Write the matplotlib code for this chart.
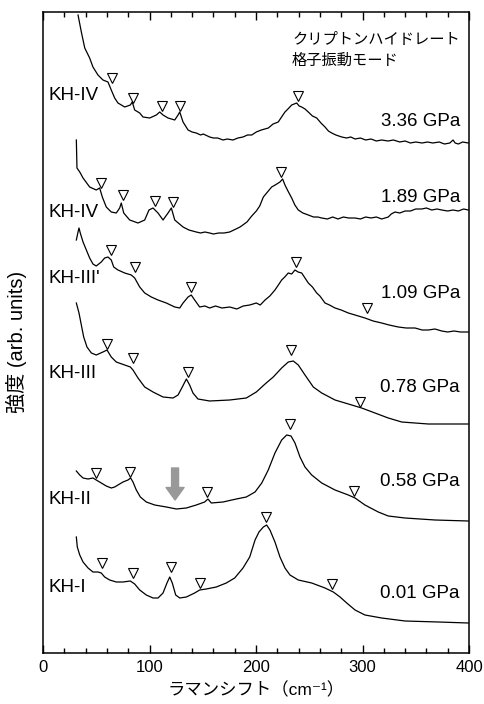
import matplotlib
matplotlib.use("Agg")
import matplotlib.pyplot as plt

plt.rcParams['font.family'] = ['Liberation Sans', 'Noto Sans CJK JP', 'DejaVu Sans']

# --- spectra (x: cm^-1, y: intensity incl. stacking offset, arb. units)
x_336 = [32.9, 36.0, 39.2, 43.8, 46.9, 51.6, 56.3, 61.0, 64.1, 67.3, 70.4, 76.7, 82.0, 83.8, 86.1,
         90.8, 93.9, 100.2, 106.4, 109.6, 112.7, 117.4, 123.7, 126.8, 128.4, 131.5, 136.2, 140.0,
         143.9, 148.0, 150.5, 156.5, 160.0, 164.0, 169.0, 173.0, 178.4, 183.0, 187.8, 192.0, 196.0,
         200.3, 205.0, 211.6, 216.0, 220.9, 224.0, 227.2, 230.0, 233.5, 238.2, 240.5, 242.9, 246.0,
         249.1, 253.0, 257.0, 261.0, 264.8, 268.0, 271.1, 275.0, 280.5, 285.0, 289.0, 293.0, 298.0,
         303.0, 308.0, 313.0, 318.0, 324.0, 329.0, 335.0, 340.0, 345.0, 350.0, 356.0, 361.0, 366.0,
         372.0, 377.0, 382.0, 385.0, 387.0, 390.0, 394.0, 399.3]
y_336 = [638, 621, 605, 595, 586, 578, 573, 571, 563, 555, 550, 546, 548, 551, 543,
         540, 536, 535, 538, 541, 538, 535, 533, 538, 541, 531, 523, 521,
         520, 518, 519, 516, 515, 515, 513, 514, 513, 515, 516, 518, 518,
         521, 523, 525, 529, 531, 536, 541, 544, 548, 550, 547, 546, 544,
         541, 537, 535, 530, 526, 522, 520, 518, 516, 515, 516, 514, 515,
         513, 514, 512, 513, 512, 513, 511, 512, 510, 511, 510, 511, 510,
         511, 509, 510, 513, 510, 509, 511, 510]

x_189 = [31.3, 31.9, 34.5, 37.6, 43.8, 50.0, 53.2, 55.7, 59.4, 64.1, 68.8, 72.0, 73.5, 75.8, 81.4,
         89.2, 95.5, 99.5, 103.3, 108.0, 112.7, 117.4, 120.5, 123.7, 131.5, 137.0, 143.9, 148.0,
         152.0, 156.5, 160.0, 165.0, 170.0, 175.3, 181.2, 185.0, 191.5, 196.0, 200.3, 203.5, 206.9,
         210.0, 214.7, 218.0, 222.5, 225.0, 227.2, 230.0, 233.5, 236.5, 239.7, 244.0, 249.1, 254.0,
         258.0, 261.7, 267.0, 272.0, 277.0, 282.0, 287.0, 293.0, 298.0, 303.0, 308.0, 313.0, 318.0,
         324.2, 327.0, 330.5, 335.0, 340.0, 345.0, 350.0, 355.6, 360.0, 365.0, 370.0, 374.4, 380.0,
         385.0, 390.0, 395.0, 399.3]
y_189 = [513, 485, 481, 475, 466, 463, 465, 456, 446, 441, 440, 445, 450, 440, 433,
         430, 433, 443, 445, 440, 433, 440, 445, 433, 426, 423, 421, 420,
         421, 420, 419, 420, 420, 421, 424, 426, 431, 437, 442, 447, 456,
         460, 466, 468, 471, 474, 468, 462, 455, 448, 443, 440, 438, 436,
         436, 435, 434, 436, 434, 436, 435, 435, 434, 436, 435, 436, 434,
         436, 439, 441, 440, 442, 442, 444, 444, 445, 443, 444, 443, 442,
         443, 442, 444, 443]

x_109 = [31.3, 32.9, 33.8, 35.0, 37.6, 40.7, 43.8, 46.9, 50.0, 54.7, 57.9, 61.0, 64.1, 66.4, 70.4,
         76.7, 82.9, 86.1, 90.8, 95.5, 101.7, 108.0, 115.8, 123.7, 128.4, 131.5, 136.2, 139.2,
         142.4, 147.1, 152.0, 156.5, 162.0, 168.0, 175.3, 182.0, 188.0, 194.1, 200.3, 204.0, 208.5,
         213.0, 217.8, 221.0, 224.1, 227.0, 230.3, 233.5, 236.6, 239.5, 242.9, 246.0, 249.1, 253.0,
         257.0, 260.0, 264.8, 269.0, 274.2, 280.0, 286.7, 293.0, 302.3, 310.0, 318.0, 325.0, 333.6,
         341.0, 349.3, 356.0, 362.0, 368.0, 374.4, 380.0, 386.0, 392.0, 399.3]
y_109 = [413, 421, 425, 420, 411, 403, 395, 389, 387, 391, 395, 396, 393, 386, 383,
         380, 378, 375, 366, 360, 356, 353, 350, 346, 345, 350, 356, 358,
         353, 346, 347, 345, 347, 345, 346, 344, 347, 348, 350, 348, 353,
         357, 363, 368, 373, 376, 380, 379, 383, 381, 380, 375, 370, 366,
         360, 357, 350, 348, 345, 343, 340, 338, 335, 332, 330, 328, 326,
         325, 325, 323, 323, 324, 322, 321, 322, 321, 321]

x_078 = [31.3, 33.8, 36.0, 38.2, 41.3, 45.4, 50.0, 56.3, 60.1, 64.1, 68.8, 76.7, 82.0, 84.5, 89.2,
         95.5, 103.3, 112.7, 122.1, 126.8, 130.8, 134.6, 137.7, 140.8, 145.5, 156.5, 175.3, 190.9,
         200.3, 208.5, 216.2, 224.1, 230.3, 235.0, 239.7, 246.0, 253.8, 261.7, 274.2, 289.9, 299.2,
         311.7, 324.2, 336.8, 361.8, 399.3]
y_078 = [350, 340, 328, 316, 306, 300, 298, 301, 303, 296, 291, 288, 286, 283, 275,
         266, 261, 256, 255, 258, 266, 274, 268, 260, 254, 252, 253, 255,
         261, 269, 276, 285, 291, 292, 288, 278, 266, 260, 253, 248, 245,
         240, 235, 231, 229, 229]

x_058 = [31.3, 34.5, 37.6, 42.3, 46.9, 50.0, 54.7, 59.4, 64.1, 67.3, 70.4, 75.1, 79.8, 82.3, 84.5,
         87.6, 91.4, 97.0, 104.9, 115.8, 125.2, 134.6, 143.9, 151.8, 154.9, 158.0, 169.0, 181.5,
         190.9, 199.1, 205.4, 211.5, 217.8, 224.1, 228.8, 232.9, 236.6, 241.3, 246.0, 252.3, 261.7,
         274.2, 286.7, 293.0, 302.3, 314.8, 324.2, 339.9, 368.1, 399.3]
y_058 = [182, 178, 175, 174, 175, 173, 170, 167, 165, 166, 168, 171, 173, 175, 171,
         163, 156, 151, 148, 146, 144, 145, 148, 151, 154, 150, 151, 154,
         156, 161, 170, 183, 200, 213, 218, 217, 210, 196, 186, 178, 170,
         163, 158, 155, 148, 141, 137, 135, 133, 132]

x_001 = [31.3, 32.2, 34.5, 37.6, 42.3, 46.9, 51.6, 54.7, 57.9, 62.6, 68.8, 75.1, 82.0, 86.1, 90.8,
         97.0, 103.3, 108.0, 112.7, 116.4, 119.0, 121.4, 124.6, 128.4, 134.6, 142.4, 147.1, 153.3,
         162.7, 172.1, 180.0, 187.8, 194.1, 199.1, 202.8, 206.9, 210.0, 213.1, 217.8, 222.5, 227.2,
         231.9, 239.7, 252.3, 264.8, 272.6, 278.9, 285.2, 293.0, 302.3, 318.0, 339.9, 371.2, 399.3]
y_001 = [116, 106, 98, 91, 85, 81, 81, 80, 76, 73, 71, 71, 72, 69, 63,
         58, 55, 55, 60, 70, 76, 70, 58, 55, 56, 60, 63, 64,
         66, 70, 75, 85, 96, 113, 121, 126, 128, 123, 111, 96, 85,
         78, 73, 70, 65, 61, 56, 50, 43, 38, 35, 32, 31, 30]

# --- peak markers
mx_336 = [64.8, 84.5, 111.7, 128.6, 239.4]
my_336 = [575, 555, 547, 547, 557]
mx_189 = [54.5, 75.1, 105.2, 122.1, 223.5]
my_189 = [470, 458, 452, 451, 481]
mx_109 = [63.8, 86.4, 139.0, 237.6, 304.2]
my_109 = [403, 386, 366, 391, 345]
mx_078 = [60.1, 84.5, 136.2, 232.9, 297.7]
my_078 = [309, 295, 281, 303, 251]
mx_058 = [49.8, 81.7, 154.0, 231.9, 292.0]
my_058 = [180, 181, 161, 229, 162]
mx_001 = [55.4, 84.5, 120.2, 147.4, 209.4, 271.4]
my_001 = [90, 80, 86, 70, 136, 69]

phases = ['KH-IV', 'KH-IV', "KH-III'", 'KH-III', 'KH-II', 'KH-I']
phase_y = [557, 441, 375, 280, 153, 66]
pressures = ['3.36 GPa', '1.89 GPa', '1.09 GPa', '0.78 GPa', '0.58 GPa', '0.01 GPa']
pressure_y = [532, 456, 360, 266, 172, 60]

fig = plt.figure(figsize=(4.85, 7.04), dpi=100)
ax = fig.add_axes([43/485, 1-653/704, 426/485, 641/704])

spectra = [(x_336, y_336), (x_189, y_189), (x_109, y_109), (x_078, y_078), (x_058, y_058), (x_001, y_001)]
markers = [(mx_336, my_336), (mx_189, my_189), (mx_109, my_109), (mx_078, my_078), (mx_058, my_058), (mx_001, my_001)]
for (xs, ys) in spectra:
    ax.plot(xs, ys, color='black', lw=0.9)
for (xs, ys) in markers:
    ax.plot(xs, ys, 'v', ms=6.5, mfc='white', mec='black', mew=0.8, ls='none')

for lab, yy in zip(phases, phase_y):
    ax.text(4.7, yy, lab, fontsize=13.5, va='center', ha='left')
for lab, yy in zip(pressures, pressure_y):
    ax.text(391.5, yy, lab, fontsize=13.5, va='center', ha='right')

ax.text(233.8, 603, 'クリプトンハイドレート\n格子振動モード', fontsize=11, va='center', ha='left',
        family=['Noto Sans CJK JP'], linespacing=1.25)

# gray arrow in KH-II
ax.annotate('', xy=(124, 153), xytext=(124, 185),
            arrowprops=dict(arrowstyle='simple,head_width=1.3,head_length=0.9,tail_width=0.5',
                            color='#999999', shrinkA=0, shrinkB=0, mutation_scale=10))

ax.set_xlim(0, 400)
ax.set_ylim(0, 641)
ax.set_xticks([0, 100, 200, 300, 400])
ax.set_xticks(range(0, 401, 20), minor=True)
ax.set_yticks([])
ax.tick_params(axis='x', which='major', direction='in', length=6, width=1, top=True, labelsize=12, pad=5)
ax.tick_params(axis='x', which='minor', direction='in', length=3.5, width=1, top=True)
for s in ax.spines.values():
    s.set_linewidth(1.1)

ax.set_xlabel('ラマンシフト（cm⁻¹）', fontsize=12.5, labelpad=5)
ax.set_ylabel('強度 (arb. units)', fontsize=14.5, va='center')
ax.yaxis.set_label_coords(-0.063, 0.485)

fig.savefig('out.png', dpi=100)
